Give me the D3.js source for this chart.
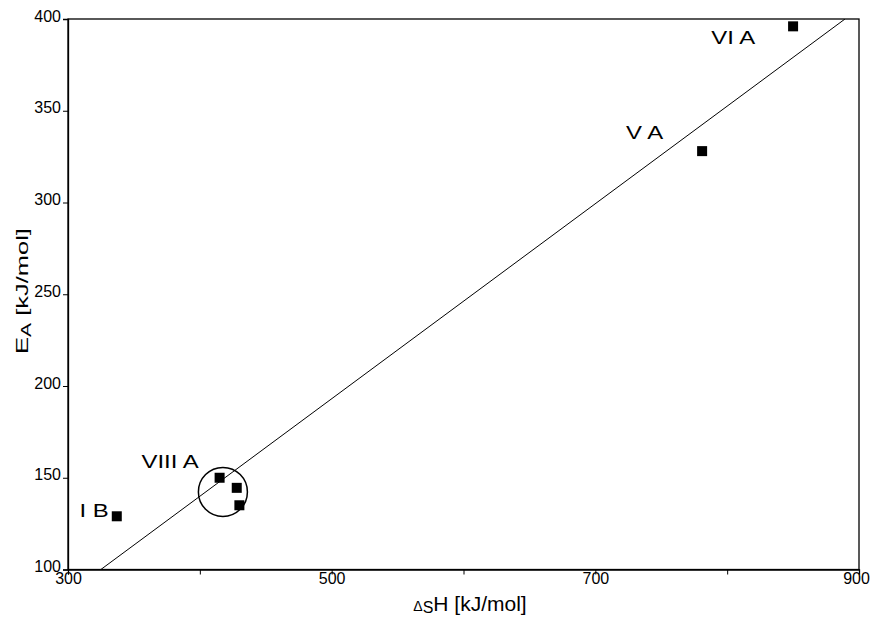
<!DOCTYPE html>
<html>
<head>
<meta charset="utf-8">
<script src="https://cdn.jsdelivr.net/npm/d3@7"></script>
<style>
  html, body { margin: 0; padding: 0; background: #fff; }
  svg { display: block; font-family: "Liberation Sans", Arial, sans-serif; }
</style>
</head>
<body>
<svg id="chart" width="871" height="617"></svg>
<script>
// Sublimation enthalpy vs. activation energy
const sampleNames = ["I B", "VIII A", "VIII A", "VIII A", "V A", "VI A"];
const enthalpyValues = [337, 415, 428, 430, 781, 850];       // ΔsH [kJ/mol]
const activationValues = [129, 150, 144.5, 135, 328, 396];   // EA [kJ/mol]

// Linear fit EA = slope * ΔsH + intercept
const fitSlope = 0.5315;
const fitIntercept = -72.7;

// Encircled group (VIII A)
const groupCentre = [417.5, 142.3];

const xTicks = [300, 400, 500, 600, 700, 800, 900];
const xTickLabels = ["300", "", "500", "", "700", "", "900"];
const yTicks = [100, 150, 200, 250, 300, 350, 400];

const svg = d3.select("#chart");
const margin = { left: 68, right: 12, top: 19, bottom: 47.5 };
const W = 871, H = 617;

const x = d3.scaleLinear().domain([300, 900]).range([margin.left, W - margin.right]);
const y = d3.scaleLinear().domain([100, 400]).range([H - margin.bottom, margin.top]);

// Frame
svg.append("rect")
  .attr("x", x(300)).attr("y", y(400))
  .attr("width", x(900) - x(300)).attr("height", y(100) - y(400))
  .attr("fill", "none").attr("stroke", "#000").attr("stroke-width", 1.3);

// Axes
const xAxis = d3.axisBottom(x).tickValues(xTicks).tickSize(5)
  .tickFormat((d, i) => xTickLabels[i]);
const gx = svg.append("g").attr("transform", `translate(0,${y(100)})`).call(xAxis);
gx.select(".domain").attr("stroke-width", 1.3);
gx.selectAll(".tick line").attr("stroke-width", 1);
gx.selectAll(".tick text").attr("font-size", 16).attr("font-family", "Liberation Sans, Arial, sans-serif")
  .attr("dy", "0.55em").attr("y", 6).attr("fill", "#000")
  .attr("dx", d => d === 900 ? -3 : 0);

const yAxis = d3.axisLeft(y).tickValues(yTicks).tickSize(5).tickFormat(d3.format("d"));
const gy = svg.append("g").attr("transform", `translate(${x(300)},0)`).call(yAxis);
gy.select(".domain").attr("stroke-width", 1.3);
gy.selectAll(".tick text").attr("font-size", 16).attr("font-family", "Liberation Sans, Arial, sans-serif")
  .attr("x", -7).attr("dy", "0.13em").attr("fill", "#000");

// Plot area clip for the fit line
svg.append("clipPath").attr("id", "plotClip").append("rect")
  .attr("x", x(300)).attr("y", y(400))
  .attr("width", x(900) - x(300)).attr("height", y(100) - y(400));

const xStart = (100 - fitIntercept) / fitSlope;
const xEnd = (400 - fitIntercept) / fitSlope;
svg.append("line")
  .attr("clip-path", "url(#plotClip)")
  .attr("x1", x(xStart)).attr("y1", y(fitSlope * xStart + fitIntercept))
  .attr("x2", x(xEnd)).attr("y2", y(fitSlope * xEnd + fitIntercept))
  .attr("stroke", "#000").attr("stroke-width", 1);

// Circle around the VIII A group
svg.append("circle")
  .attr("cx", x(groupCentre[0])).attr("cy", y(groupCentre[1]))
  .attr("r", 24.5)
  .attr("fill", "none").attr("stroke", "#000").attr("stroke-width", 1.5);

// Square markers
const points = enthalpyValues.map((v, i) => ({ name: sampleNames[i], x: v, y: activationValues[i] }));
const size = 10;
svg.append("g").selectAll("rect").data(points).join("rect")
  .attr("x", d => x(d.x) - size / 2)
  .attr("y", d => y(d.y) - size / 2)
  .attr("width", size).attr("height", size)
  .attr("fill", "#000");

// Sample labels (wide lettering), each anchored to one of its points
const labelPlacement = [
  { point: 0, dx: -8, dy: 1 },
  { point: 1, dx: -21, dy: -10 },
  { point: 4, dx: -39, dy: -12 },
  { point: 5, dx: -38, dy: 18 }
];
svg.append("g").selectAll("text").data(labelPlacement).join("text")
  .attr("transform", d => `translate(${x(points[d.point].x) + d.dx},${y(points[d.point].y) + d.dy}) scale(1.33,1)`)
  .attr("text-anchor", "end")
  .attr("font-size", 18)
  .attr("fill", "#000")
  .text(d => points[d.point].name);

// Axis titles
const xt = svg.append("text")
  .attr("x", 470).attr("y", 611)
  .attr("text-anchor", "middle").attr("font-size", 21).attr("fill", "#000");
xt.append("tspan").attr("font-size", 14).text("Δ");
xt.append("tspan").attr("font-size", 16).attr("dy", 2).text("S");
xt.append("tspan").attr("dy", -2).text("H [kJ/mol]");

const yt = svg.append("text")
  .attr("transform", "translate(28,291) rotate(-90) scale(1.5,1)")
  .attr("text-anchor", "middle").attr("font-size", 17).attr("fill", "#000");
yt.append("tspan").text("E");
yt.append("tspan").attr("font-size", 14).attr("dy", 3).text("A");
yt.append("tspan").attr("dy", -3).text(" [kJ/mol]");
</script>
</body>
</html>
